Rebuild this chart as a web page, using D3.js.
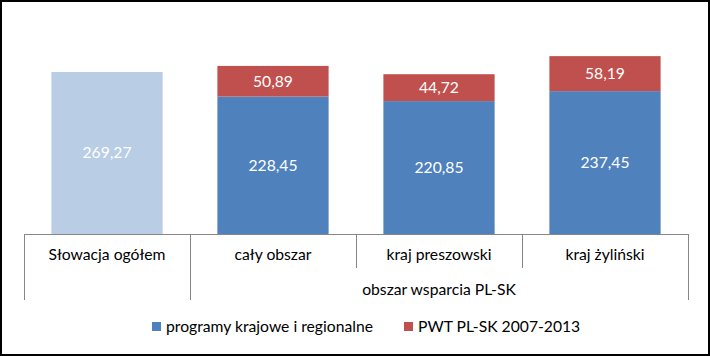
<!DOCTYPE html>
<html><head><meta charset="utf-8">
<script src="https://cdn.jsdelivr.net/npm/d3@7"></script>
<style>body{margin:0;background:#fff}svg{display:block}text{font-family:Lato,"Open Sans",sans-serif}</style>
</head><body>
<script>
const categories = ["Słowacja ogółem","cały obszar","kraj preszowski","kraj żyliński"];
const groupLabel = "obszar wsparcia PL-SK";
const seriesNames = ["programy krajowe i regionalne","PWT PL-SK 2007-2013"];
const national = [269.27, 228.45, 220.85, 237.45];
const pwt = [0, 50.89, 44.72, 58.19];
const colors = ["#4F81BD","#C0504D"];
const firstColor = "#B9CDE5";

const W=710,H=356,FS=15.7;
const svg=d3.select("body").append("svg").attr("width",W).attr("height",H);
svg.append("rect").attr("x",1).attr("y",1).attr("width",W-2).attr("height",H-2).attr("fill","#fff").attr("stroke","#000").attr("stroke-width",2);

const x=d3.scaleBand().domain(categories).range([24,688]).padding(0);
const y=d3.scaleLinear().domain([0,300]).range([234,53.5]);
const bw=x.bandwidth()*0.67;
const fmt=v=>v.toFixed(2).replace(".",",");

const g=svg.append("g");
categories.forEach((c,i)=>{
  const bx=x(c)+(x.bandwidth()-bw)/2;
  const n=national[i], p=pwt[i];
  g.append("rect").attr("x",bx).attr("width",bw).attr("y",y(n)).attr("height",y(0)-y(n)).attr("fill",i===0?firstColor:colors[0]);
  g.append("text").attr("x",bx+bw/2).attr("y",(y(n)+y(0))/2).attr("dy","0.35em").attr("text-anchor","middle").attr("fill","#fff").attr("font-size",FS).text(fmt(n));
  if(p>0){
    g.append("rect").attr("x",bx).attr("width",bw).attr("y",y(n+p)).attr("height",y(n)-y(n+p)).attr("fill",colors[1]);
    g.append("text").attr("x",bx+bw/2).attr("y",(y(n)+y(n+p))/2).attr("dy","0.35em").attr("text-anchor","middle").attr("fill","#fff").attr("font-size",FS).text(fmt(p));
  }
});

// axis
const ax=svg.append("g").attr("stroke","#868686").attr("stroke-width",1);
ax.append("line").attr("x1",24).attr("x2",688).attr("y1",234.5).attr("y2",234.5);
const bounds=[24, x(categories[1]), x(categories[2]), x(categories[3]), 688];
bounds.forEach((b,i)=>{
  const long = (i===0||i===1||i===4);
  ax.append("line").attr("x1",Math.round(b)+0.5).attr("x2",Math.round(b)+0.5).attr("y1",234).attr("y2",long?300:268);
});
categories.forEach(c=>{
  svg.append("text").attr("x",x(c)+x.bandwidth()/2).attr("y",255).attr("dy","0.35em").attr("text-anchor","middle").attr("fill","#000").attr("font-size",FS).text(c);
});
svg.append("text").attr("x",(x(categories[1])+688)/2).attr("y",290).attr("dy","0.35em").attr("text-anchor","middle").attr("fill","#000").attr("font-size",FS).text(groupLabel);

// legend
const leg=[{x:152,tx:166},{x:404,tx:418}];
seriesNames.forEach((s,i)=>{
  svg.append("rect").attr("x",leg[i].x).attr("y",322).attr("width",9).attr("height",9).attr("fill",colors[i]);
  svg.append("text").attr("x",leg[i].tx).attr("y",327).attr("dy","0.35em").attr("fill","#000").attr("font-size",FS).text(s);
});
</script>
</body></html>
